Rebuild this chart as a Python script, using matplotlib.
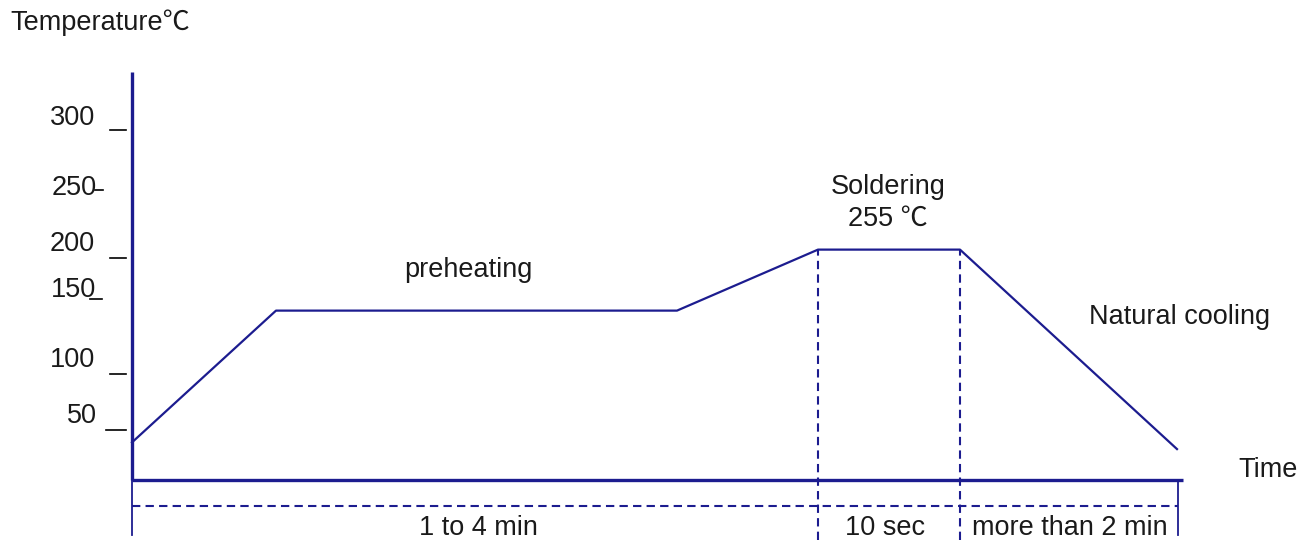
import matplotlib.pyplot as plt

plt.rcParams['font.family'] = ['Liberation Sans', 'Noto Sans CJK SC', 'DejaVu Sans']

navy = '#1c1c8f'
txt = '#1a1a1a'
fs = 19.5

# reflow profile (schematic time units, temperature in degC)
profile_time = [0, 14.4, 54.5, 68.6, 82.8, 104.5]
profile_temp = [44, 152, 152, 202, 202, 38.5]

# y labels as drawn on the original sketch (not evenly spaced)
tick_labels = ['300', '250', '200', '150', '100', '50']
tick_level = [300, 250.8, 195.1, 161.5, 100, 54.1]
label_level = [309.8, 252.5, 206.6, 168.9, 111.5, 65.6]

# time segments below the axis
seg_edges = [0, 68.6, 82.8, 104.6]
seg_labels = ['1 to 4 min', '10 sec', 'more than 2 min']
seg_label_x = [34.6, 75.3, 93.8]

fig = plt.figure(figsize=(13.12, 5.44), dpi=100)
ax = fig.add_axes([0, 0, 1, 1])
ax.set_xlim(-13.2, 118.0)
ax.set_ylim(-39.3, 406.6)
ax.axis('off')

base = 13.1
axis_top = 347.5
axis_end = 105.1

# axes drawn by hand like the sketch
ax.plot([0, 0], [base, axis_top], color=navy, lw=2.4, solid_capstyle='butt')
ax.plot([0, 0], [-32, base], color=navy, lw=1.3)
ax.plot([0, axis_end], [base, base], color=navy, lw=2.4, solid_capstyle='butt')
ax.plot([seg_edges[-1], seg_edges[-1]], [-32, base], color=navy, lw=1.3)

# profile
ax.plot(profile_time, profile_temp, color=navy, lw=1.6)

# dashed guides
ax.plot([seg_edges[0], seg_edges[-1]], [-8.2, -8.2], color=navy, lw=1.5,
        linestyle=(0, (4, 2.5)))
for x in seg_edges[1:3]:
    ax.plot([x, x], [-36, profile_temp[3]], color=navy, lw=1.5,
            linestyle=(0, (4, 2.5)))

# y tick dashes + labels
dash_x = [(-2.2, -0.6), (-3.7, -2.9), (-2.2, -0.6), (-4.2, -3.0), (-2.2, -0.6), (-2.6, -0.6)]
label_right = [-3.7, -3.5, -3.7, -3.6, -3.7, -3.5]
for lab, lv, ly, dx, lr in zip(tick_labels, tick_level, label_level, dash_x, label_right):
    ax.plot(dx, [lv, lv], color='black', lw=1.2)
    ax.text(lr, ly, lab, ha='right', va='center', fontsize=fs, color=txt)

ax.text(-12.2, 388, 'Temperature℃', ha='left', va='center', fontsize=fs, color=txt)
ax.text(113.6, 21.3, 'Time', ha='center', va='center', fontsize=fs, color=txt)
ax.text(33.6, 185, 'preheating', ha='center', va='center', fontsize=fs, color=txt)
ax.text(75.6, 240, 'Soldering\n255 ℃', ha='center', va='center', fontsize=fs,
        color=txt, linespacing=1.3)
ax.text(104.8, 146.7, 'Natural cooling', ha='center', va='center', fontsize=fs, color=txt)

for lab, x in zip(seg_labels, seg_label_x):
    ax.text(x, -26, lab, ha='center', va='center', fontsize=fs, color=txt)

fig.savefig('out.png', dpi=100)
